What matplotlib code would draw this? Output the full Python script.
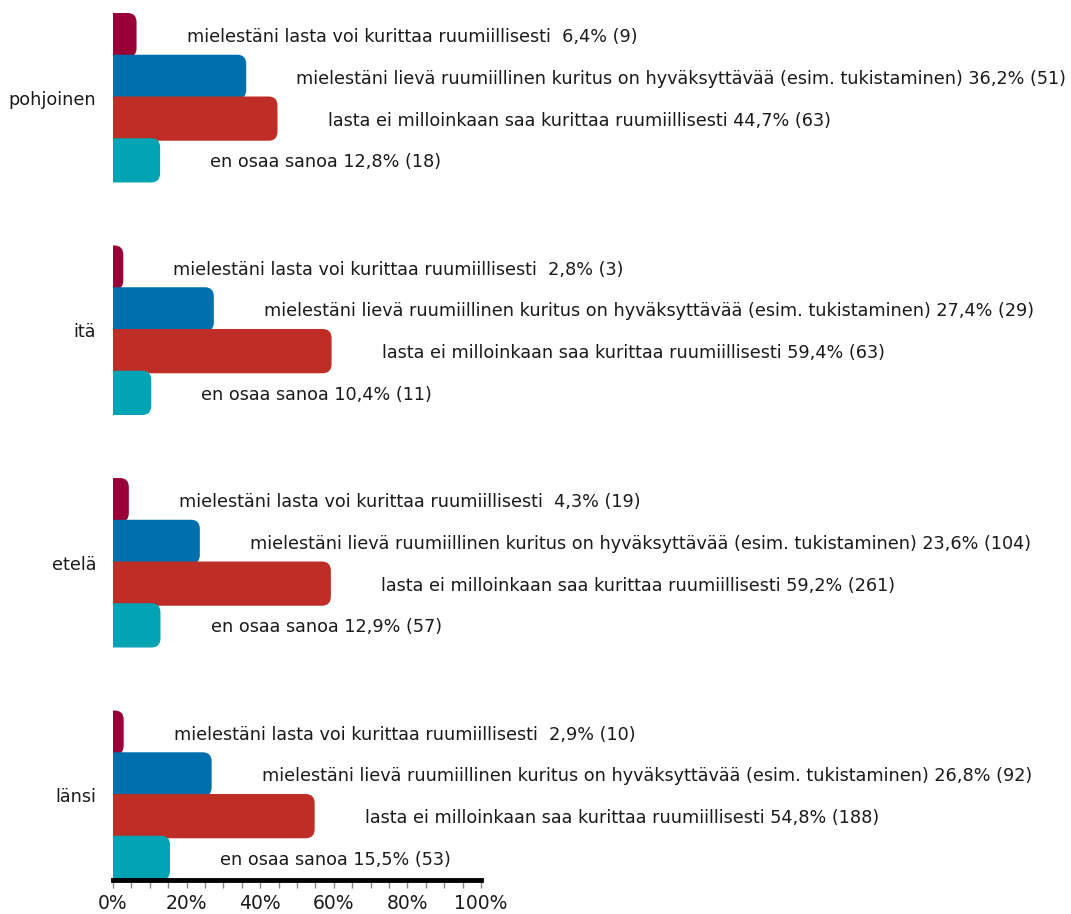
import matplotlib
matplotlib.use("Agg")
import matplotlib.pyplot as plt
from matplotlib.patches import FancyBboxPatch
from matplotlib.ticker import MultipleLocator, FuncFormatter

regions = ["pohjoinen", "itä", "etelä", "länsi"]
answers = [
    "mielestäni lasta voi kurittaa ruumiillisesti ",
    "mielestäni lievä ruumiillinen kuritus on hyväksyttävää (esim. tukistaminen)",
    "lasta ei milloinkaan saa kurittaa ruumiillisesti",
    "en osaa sanoa",
]
percent = [
    [6.4, 36.2, 44.7, 12.8],
    [2.8, 27.4, 59.4, 10.4],
    [4.3, 23.6, 59.2, 12.9],
    [2.9, 26.8, 54.8, 15.5],
]
counts = [
    [9, 51, 63, 18],
    [3, 29, 63, 11],
    [19, 104, 261, 57],
    [10, 92, 188, 53],
]
colors = ["#990038", "#006FAD", "#BE2E27", "#00A4B5"]

FONT = "DejaVu Sans"
FS = 12.7

fig = plt.figure(figsize=(10.71, 9.14), dpi=100)
W, H = 1071, 914
ax = fig.add_axes([113 / W, 1 - 880 / H, (481 - 113) / W, (880 - 13) / H])

group_gap = 5.57
bar_h = 1.06
for g, reg in enumerate(regions):
    for j in range(4):
        y = g * group_gap + j
        v = percent[g][j]
        bars = ax.barh(y, v, height=bar_h, color=colors[j])
        rect = bars.patches[0]
        rect.set_visible(False)
        x0 = rect.get_x()
        y0 = rect.get_y()
        w = rect.get_width()
        h = rect.get_height()
        r = 2.4
        patch = FancyBboxPatch((x0 - 4, y0), w + 4, h,
                               boxstyle=f"round,pad=0,rounding_size={r}",
                               mutation_aspect=0.092,
                               facecolor=colors[j], edgecolor="none",
                               zorder=2 + j)
        ax.add_patch(patch)
        num = f"{v:.1f}".replace(".", ",")
        label = f"{answers[j]} {num}% ({counts[g][j]})"
        ax.text(v + 13.6, y + 0.05, label, va="center", ha="left",
                fontsize=FS, family=FONT, color="#1a1a1a", clip_on=False)

ax.set_xlim(0, 100)
ax.set_ylim(3 * group_gap + 3 + bar_h / 2, -bar_h / 2)

ax.set_yticks([g * group_gap + 1.5 for g in range(4)])
ax.set_yticklabels(regions, fontsize=FS, family=FONT, color="#1a1a1a")
ax.tick_params(axis="y", length=0, pad=12)

ax.xaxis.set_major_locator(MultipleLocator(20))
ax.xaxis.set_minor_locator(MultipleLocator(5))
ax.xaxis.set_major_formatter(FuncFormatter(lambda x, p: f"{int(round(x))}%"))
ax.tick_params(axis="x", which="both", direction="out", color="#888888",
               length=6, width=1, labelsize=13.5, pad=4, labelcolor="#1a1a1a")
for t in ax.get_xticklabels():
    t.set_family(FONT)

for s in ["top", "right", "left"]:
    ax.spines[s].set_visible(False)
ax.spines["bottom"].set_linewidth(3.5)
ax.spines["bottom"].set_color("black")
ax.spines["bottom"].set_zorder(10)

fig.savefig("out.png", dpi=100)
